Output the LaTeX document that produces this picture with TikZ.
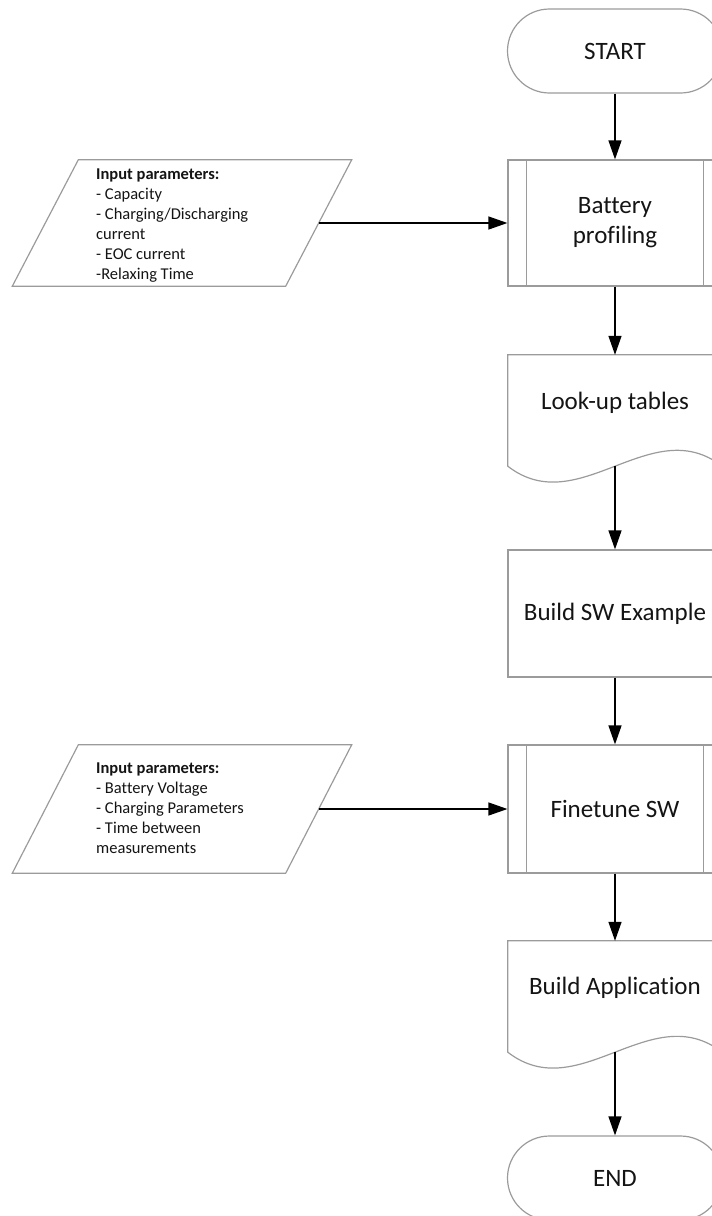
\documentclass[tikz,border=0pt]{standalone}
\usepackage{fontspec}
\setmainfont{Carlito}[Ligatures=NoCommon]
\usetikzlibrary{arrows.meta,calc}
\definecolor{shapeborder}{RGB}{155,155,155}
\definecolor{txt}{RGB}{20,20,20}
\begin{document}
\begin{tikzpicture}[x=1pt,y=-1pt,
  shapeline/.style={draw=shapeborder, line width=1.2pt},
  bigtext/.style={font=\fontsize{25}{30}\selectfont, text=txt, align=center},
  smalltext/.style={font=\fontsize{16.5}{20}\selectfont, text=txt, align=left, inner sep=0pt},
  terminal/.style={shapeline, rounded corners=42pt, minimum width=215pt, minimum height=84pt, bigtext},
  procbox/.style={shapeline, minimum width=214pt, minimum height=127pt, bigtext, inner sep=0pt},
  docbox/.style={minimum width=214pt, minimum height=111pt, inner sep=0pt},
  doclabel/.style={bigtext, inner sep=0pt},
  iobox/.style={minimum width=273pt, minimum height=127pt, inner sep=0pt},
  flow/.style={draw=black, line width=1.3pt, -{Triangle[length=19pt,width=13pt]}},
]
\useasboundingbox (0,0) rectangle (712,1216);
\begin{scope}
\clip (0,0) rectangle (712,1216);

% main column
\node[terminal] (start) at (615,51) {START};
\node[procbox, minimum height=126pt] (battery) at (615,223) {Battery\\profiling};
\node[docbox] (lookup) at (615,410.5) {};
\node[doclabel] (lookuptxt) at (615,403) {Look-up tables};
\node[procbox] (buildsw) at (615,613.5) {Build SW Example};
\node[procbox, minimum height=128pt] (finetune) at (615,809) {Finetune SW};
\node[docbox] (buildapp) at (615,996.5) {};
\node[doclabel] (buildapptxt) at (615,988) {Build Application};
\node[terminal] (endn) at (615,1178) {END};

% predefined process side bars
\foreach \b in {battery,finetune}{
  \draw[shapeline] ([xshift=19pt]\b.north west) -- ([xshift=19pt]\b.south west);
  \draw[shapeline] ([xshift=-19pt]\b.north east) -- ([xshift=-19pt]\b.south east);
}

% document shapes
\foreach \d in {lookup,buildapp}{
  \draw[shapeline] (\d.south west) -- (\d.north west) -- (\d.north east) -- (\d.south east)
    .. controls ($(\d.south east)+(-71,-55)$) and ($(\d.south west)+(71,55)$) .. (\d.south west) -- cycle;
}

% input parallelograms
\node[iobox, minimum height=126pt] (in1) at (182,223) {};
\node[iobox, minimum height=128pt] (in2) at (182,809) {};
\foreach \p in {in1,in2}{
  \draw[shapeline] ([xshift=33pt]\p.north west) -- ([xshift=33pt]\p.north east)
    -- ([xshift=-33pt]\p.south east) -- ([xshift=-33pt]\p.south west) -- cycle;
}
\node[smalltext, anchor=north west] (in1txt) at (96,169)
  {\textbf{Input parameters:}\\- Capacity\\- Charging/Discharging\\current\\- EOC current\\-Relaxing Time};
\node[smalltext, anchor=north west] (in2txt) at (96,763)
  {\textbf{Input parameters:}\\- Battery Voltage\\- Charging Parameters\\- Time between\\measurements};

% connectors
\draw[flow] (start.south) -- (battery.north);
\draw[flow] (battery.south) -- (lookup.north);
\draw[flow] (lookup.south) -- (buildsw.north);
\draw[flow] (buildsw.south) -- (finetune.north);
\draw[flow] (finetune.south) -- (buildapp.north);
\draw[flow] (buildapp.south) -- (endn.north);
\draw[flow] (in1.east) -- (battery.west);
\draw[flow] (in2.east) -- (finetune.west);
\end{scope}
\end{tikzpicture}
\end{document}
